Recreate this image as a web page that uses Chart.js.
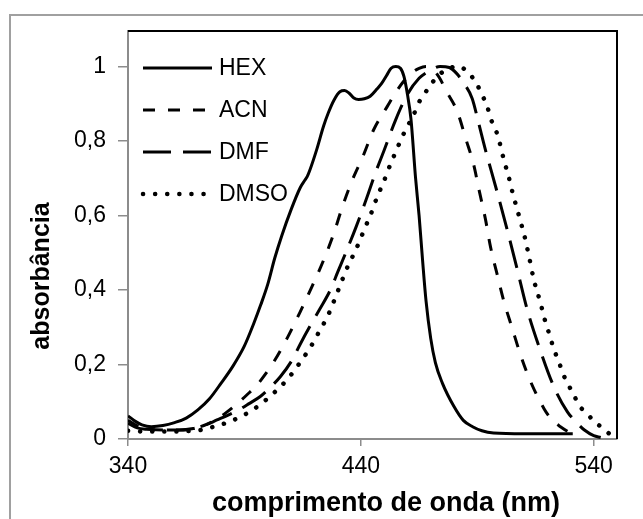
<!DOCTYPE html>
<html>
<head>
<meta charset="utf-8">
<script src="https://cdn.jsdelivr.net/npm/chart.js@4.4.1/dist/chart.umd.min.js"></script>
<style>
  body { margin: 0; background: #fff; }
  #wrap { width: 643px; height: 519px; }
</style>
</head>
<body>
<div id="wrap"><canvas id="spectra" width="643" height="519"></canvas></div>
<script>
// absorption spectra in four solvents
const seriesNames = ['HEX', 'ACN', 'DMF', 'DMSO'];

const hexNm  = [340, 343, 346, 350, 355, 360, 365, 370, 375, 380, 385, 390, 394, 397, 400, 403, 406, 410, 414, 416, 417, 418, 421, 424, 426, 428.5, 431, 433, 435, 437, 439, 441.5, 444, 447, 449, 451, 453, 455, 457, 458.5, 460, 461.5, 463.5, 465, 466.5, 468, 470, 472, 475, 480, 484, 488, 492, 497, 510, 531];
const hexAbs = [0.062, 0.048, 0.038, 0.033, 0.036, 0.044, 0.056, 0.078, 0.108, 0.15, 0.195, 0.25, 0.31, 0.36, 0.415, 0.485, 0.545, 0.615, 0.675, 0.695, 0.705, 0.72, 0.776, 0.84, 0.875, 0.91, 0.932, 0.935, 0.928, 0.915, 0.911, 0.913, 0.92, 0.94, 0.955, 0.975, 0.995, 1.0, 0.995, 0.973, 0.925, 0.86, 0.7, 0.6, 0.48, 0.37, 0.27, 0.205, 0.15, 0.087, 0.05, 0.033, 0.022, 0.016, 0.014, 0.014];

const acnNm  = [340, 344, 348, 355, 362, 366, 370, 374, 378, 382, 386.8, 391, 395.4, 399, 402.6, 408.3, 414, 419, 424, 428.4, 432, 436, 441, 445.5, 451.3, 455, 458.4, 462, 465, 468, 471, 474, 476.4, 481.4, 485, 488.5, 490.7, 493.5, 495.7, 498.6, 501.4, 505, 508.6, 512.9, 518.6, 522, 525.7, 530, 532];
const acnAbs = [0.05, 0.035, 0.027, 0.024, 0.024, 0.026, 0.031, 0.04, 0.053, 0.07, 0.094, 0.118, 0.145, 0.174, 0.207, 0.27, 0.342, 0.409, 0.48, 0.552, 0.622, 0.69, 0.76, 0.83, 0.892, 0.93, 0.96, 0.983, 0.995, 1.0, 0.992, 0.967, 0.937, 0.879, 0.807, 0.735, 0.67, 0.59, 0.515, 0.44, 0.37, 0.297, 0.225, 0.154, 0.082, 0.052, 0.033, 0.017, 0.014];

const dmfNm  = [340, 344, 348, 355, 362, 368, 373, 378.2, 383, 387.5, 392, 396.8, 401, 405.4, 410.5, 414, 418, 422.5, 426.9, 430, 433.4, 438, 442.7, 446.3, 450, 454.9, 460, 465, 470, 474, 478, 481, 484, 487.8, 490.5, 493.5, 497.9, 502.9, 507.2, 511.5, 516.5, 522.9, 528.7, 533, 536, 540, 543];
const dmfAbs = [0.042, 0.03, 0.026, 0.024, 0.024, 0.028, 0.037, 0.051, 0.064, 0.078, 0.095, 0.114, 0.138, 0.167, 0.212, 0.255, 0.301, 0.35, 0.4, 0.447, 0.498, 0.57, 0.65, 0.715, 0.775, 0.856, 0.925, 0.968, 0.99, 1.0, 0.997, 0.982, 0.957, 0.914, 0.85, 0.776, 0.677, 0.56, 0.454, 0.346, 0.248, 0.14, 0.073, 0.042, 0.024, 0.009, 0.004];

const dmsoNm  = [340, 348, 358, 365, 371, 375, 379.7, 385, 389.7, 394, 398.3, 402, 406.2, 409.5, 412.6, 418.5, 422, 426, 430, 434, 438, 442, 444.1, 445.8, 447.7, 449.8, 451.6, 453.5, 455.6, 457.7, 459.9, 462.7, 464.2, 467, 469.9, 473.5, 478, 482, 485, 487.1, 490, 492.1, 494.3, 495.7, 497.9, 499.3, 500.7, 502, 503.3, 504.5, 505.8, 507.2, 508.6, 510, 512.2, 514.3, 517.2, 519, 521, 523, 525, 526.7, 528.7, 531.5, 533.6, 537, 540.4, 544.4, 547.5, 550];
const dmsoAbs = [0.022, 0.02, 0.02, 0.021, 0.024, 0.03, 0.038, 0.05, 0.064, 0.08, 0.1, 0.12, 0.145, 0.168, 0.194, 0.248, 0.287, 0.333, 0.395, 0.458, 0.51, 0.57, 0.6, 0.63, 0.66, 0.69, 0.72, 0.749, 0.78, 0.81, 0.838, 0.87, 0.895, 0.923, 0.95, 0.977, 0.995, 1.0, 0.99, 0.977, 0.95, 0.923, 0.892, 0.861, 0.83, 0.803, 0.767, 0.736, 0.709, 0.677, 0.646, 0.615, 0.583, 0.552, 0.49, 0.427, 0.364, 0.32, 0.28, 0.239, 0.208, 0.177, 0.15, 0.118, 0.091, 0.069, 0.046, 0.027, 0.01, 0.003];

const xTicks = [340, 440, 540];
const yTicks = [0, 0.2, 0.4, 0.6, 0.8, 1];
const xTitle = 'comprimento de onda (nm)';
const yTitle = 'absorbância';

const FONT = "'Liberation Sans', Arial, sans-serif";

function pairs(xs, ys) {
    return xs.map((x, i) => ({ x: x, y: ys[i] }));
}

// line styles per solvent
const styles = [
    { borderWidth: 3, borderDash: [], borderCapStyle: 'butt' },
    { borderWidth: 3, borderDash: [12, 13], borderCapStyle: 'butt' },
    { borderWidth: 3, borderDash: [28, 12], borderCapStyle: 'butt' },
    { borderWidth: 4.5, borderDash: [0.1, 12], borderCapStyle: 'round' }
];
const allData = [pairs(hexNm, hexAbs), pairs(acnNm, acnAbs), pairs(dmfNm, dmfAbs), pairs(dmsoNm, dmsoAbs)];

const datasets = seriesNames.map((name, i) => Object.assign({
    label: name,
    data: allData[i],
    borderColor: '#000',
    backgroundColor: '#000',
    pointRadius: 0,
    fill: false,
    cubicInterpolationMode: 'monotone'
}, styles[i]));

//Frame: outer gray box + black top/right edge of the plot area
const framePlugin = {
    id: 'frame',
    beforeDraw(chart) {
        const ctx = chart.ctx;
        ctx.save();
        ctx.fillStyle = '#fff';
        ctx.fillRect(0, 0, chart.width, chart.height);
        ctx.strokeStyle = '#a0a0a0';
        ctx.lineWidth = 2;
        ctx.strokeRect(10, 15, 700, 600);
        ctx.restore();
    },
    afterDatasetsDraw(chart) {
        const a = chart.chartArea;
        const ctx = chart.ctx;
        ctx.save();
        ctx.strokeStyle = '#000';
        ctx.lineWidth = 2;
        ctx.beginPath();
        ctx.moveTo(a.left, a.top);
        ctx.lineTo(a.right, a.top);
        ctx.lineTo(a.right, a.bottom);
        ctx.stroke();
        ctx.restore();
    }
};

//Legend inside the plot, top-left
const legendPlugin = {
    id: 'insideLegend',
    afterDraw(chart) {
        const ctx = chart.ctx;
        ctx.save();
        chart.data.datasets.forEach((ds, i) => {
            const y = 68 + i * 42;
            ctx.strokeStyle = ds.borderColor;
            ctx.lineWidth = ds.borderWidth;
            ctx.lineCap = ds.borderCapStyle;
            ctx.setLineDash(ds.borderDash);
            ctx.beginPath();
            ctx.moveTo(143, y);
            ctx.lineTo(212, y);
            ctx.stroke();
            ctx.setLineDash([]);
            ctx.fillStyle = '#000';
            ctx.font = '23px ' + FONT;
            ctx.textBaseline = 'middle';
            ctx.textAlign = 'left';
            ctx.fillText(ds.label, 219, y + 1);
        });
        ctx.restore();
    }
};

//Axis titles (Excel places them off-centre)
const titlePlugin = {
    id: 'axisTitles',
    afterDraw(chart) {
        const ctx = chart.ctx;
        ctx.save();
        ctx.fillStyle = '#000';
        ctx.textAlign = 'center';
        ctx.textBaseline = 'middle';
        ctx.font = 'bold 27px ' + FONT;
        ctx.fillText(xTitle, 386, 504);
        ctx.font = 'bold 25px ' + FONT;
        ctx.translate(42, 276);
        ctx.rotate(-Math.PI / 2);
        ctx.fillText(yTitle, 0, 0);
        ctx.restore();
    }
};

const ctx = document.getElementById('spectra').getContext('2d');
const spectraChart = new Chart(ctx, {
    type: 'line',
    data: { datasets: datasets },
    plugins: [framePlugin, legendPlugin, titlePlugin],
    options: {
        responsive: false,
        animation: false,
        layout: { padding: { top: 31, right: 26, left: 0, bottom: 0 } },
        plugins: {
            legend: { display: false },
            tooltip: { enabled: false }
        },
        scales: {
            x: {
                type: 'linear',
                min: 340,
                max: 550,
                afterBuildTicks: (axis) => { axis.ticks = xTicks.map(v => ({ value: v })); },
                afterFit: (axis) => { axis.height = 80; },
                grid: { drawOnChartArea: false, color: '#8c8c8c', lineWidth: 1.5, tickLength: 7 },
                border: { color: '#8c8c8c', width: 2 },
                ticks: {
                    color: '#000',
                    padding: 7,
                    maxRotation: 0,
                    font: { family: FONT, size: 23 }
                }
            },
            y: {
                min: 0,
                max: 1.095,
                afterBuildTicks: (axis) => { axis.ticks = yTicks.map(v => ({ value: v })); },
                afterFit: (axis) => { axis.width = 128; },
                grid: { drawOnChartArea: false, color: '#8c8c8c', lineWidth: 1.5, tickLength: 10 },
                border: { color: '#8c8c8c', width: 2 },
                ticks: {
                    color: '#000',
                    padding: 12,
                    font: { family: FONT, size: 23 },
                    callback: (v) => String(Math.round(v * 10) / 10).replace('.', ',')
                }
            }
        }
    }
});
</script>
</body>
</html>
